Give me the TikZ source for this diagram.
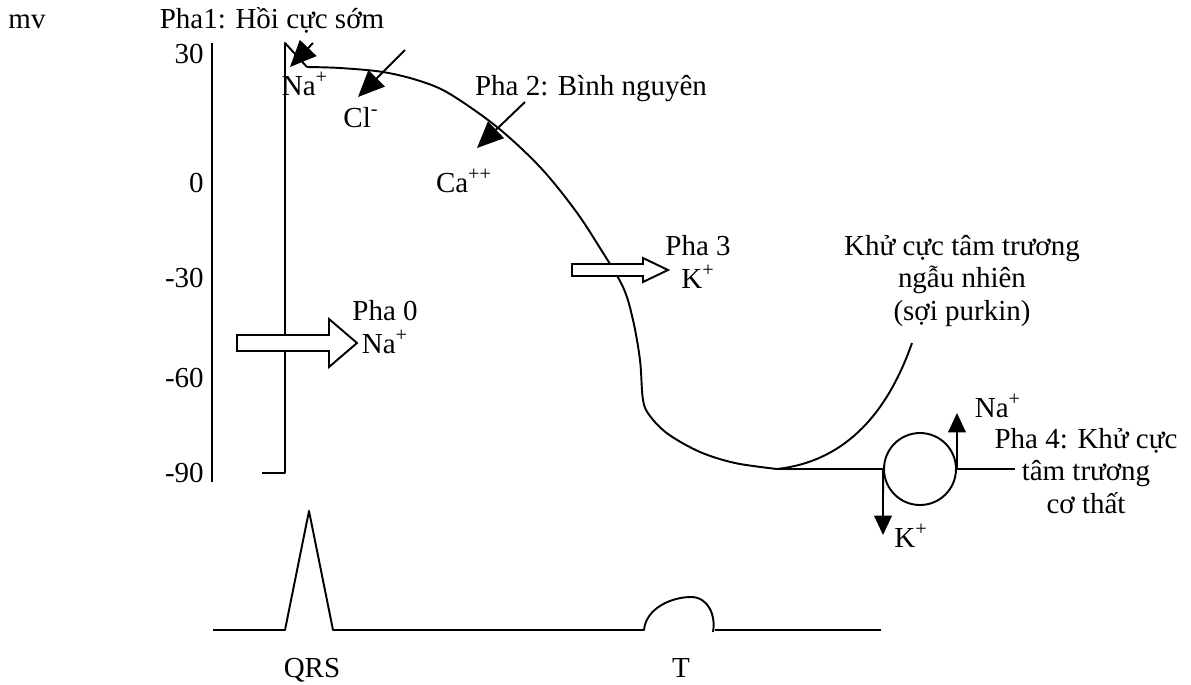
\documentclass[tikz,border=0pt]{standalone}
\usepackage{fontspec}
\setmainfont{Liberation Serif}
\usetikzlibrary{arrows.meta, positioning}

\begin{document}
\begin{tikzpicture}[x=0.02cm, y=-0.02cm,
        lbl/.style={inner sep=0pt, anchor=base, align=center, font=\fontsize{16.5}{18.5}\selectfont},
        tick/.style={lbl, anchor=base east},
        trace/.style={line width=1.1pt, line join=round},
        ion/.style={-{Triangle[length=15pt, width=13pt]}, line width=1.1pt},
        pumpion/.style={-{Triangle[length=11pt, width=10pt]}, line width=1.1pt},
        flux/.style={draw, line width=1.1pt, fill=white, line join=miter},
        pumpbox/.style={circle, draw, line width=1.1pt, minimum size=1.44cm, inner sep=0pt}
    ]
        \useasboundingbox (0,0) rectangle (1191,684);

        \node[lbl] (mv) at (27,28) {mv};
        \node[lbl] (pha1) at (272,28) {Pha1: Hồi cực sớm};
        \node[tick] (t30) at (204,63) {30};
        \node[tick] (t0) at (204,192) {0};
        \node[tick] (tm30) at (204,287) {-30};
        \node[tick] (tm60) at (204,387) {-60};
        \node[tick] (tm90) at (204,482) {-90};
        \draw[trace] (212,43) -- (212,482);

        \coordinate (trough) at (777,469);
        \draw[trace] (262,473) -- (285,473) -- (285,43) -- (307,67);
        \draw[trace] plot[smooth, tension=0.55] coordinates {(307,67) (340,68) (383,72) (420,81) (450,94) (497,127) (540,167) (575,210) (600,248) (623,287) (633,320) (640,360) (643,400) (650,416) (668,434) (700,452) (735,463) (777,469)};
        \draw[trace] (trough) .. controls (840,462) and (885,420) .. (912,343);

        \node[lbl] (naTop) at (305,95) {Na\textsuperscript{+}};
        \node[lbl] (cl) at (361,127) {Cl\textsuperscript{-}};
        \node[lbl] (ca) at (464,192) {Ca\textsuperscript{++}};
        \node[lbl] (pha2) at (591,95) {Pha 2: Bình nguyên};
        \coordinate (naTopS) at (313,43);
        \coordinate (naTopE) at (290,67);
        \coordinate (clS) at (405,50);
        \coordinate (clE) at (358,97);
        \coordinate (caS) at (525,102);
        \coordinate (caE) at (477,148);
        \draw[ion] (naTopS) -- (naTopE);
        \draw[ion] (clS) -- (clE);
        \draw[ion] (caS) -- (caE);

        \draw[flux] (237,335) -- (329,335) -- (329,319) -- (357,343) -- (329,367) -- (329,351) -- (237,351) -- cycle;
        \node[lbl] (pha0) at (385,353) {Pha 0\\Na\textsuperscript{+}};
        \draw[flux] (572,264) -- (643,264) -- (643,258) -- (668,270) -- (643,282) -- (643,276) -- (572,276) -- cycle;
        \node[lbl] (pha3) at (698,288) {Pha 3\\K\textsuperscript{+}};

        \node[lbl] (purkin) at (962,320) {Khử cực tâm trương\\ngẫu nhiên\\(sợi purkin)};

        \node[pumpbox] (pump) at (920,469) {};
        \coordinate (pha4End) at (1015,469);
        \draw[trace] (trough) -- (pump.west);
        \draw[trace] (pump.east) -- (pha4End);
        \coordinate (naUp) at (957,413);
        \coordinate (kDown) at (883,535);
        \draw[pumpion] (pump.east) -- (naUp);
        \draw[pumpion] (pump.west) -- (kDown);
        \node[lbl] (naPump) at (998,417) {Na\textsuperscript{+}};
        \node[lbl] (kPump) at (911,547) {K\textsuperscript{+}};
        \node[lbl] (pha4) at (1086,513) {Pha 4: Khử cực\\tâm trương\\cơ thất};

        \draw[trace] (213,630) -- (285,630) -- (309,511) -- (333,630) -- (644,630) .. controls (646,608) and (672,597) .. (691,597) .. controls (708,597) and (716,615) .. (713,632);
        \draw[trace] (715,630) -- (881,630);
        \node[lbl] (qrs) at (312,677) {QRS};
        \node[lbl] (tw) at (681,677) {T};
    \end{tikzpicture}
\end{document}
